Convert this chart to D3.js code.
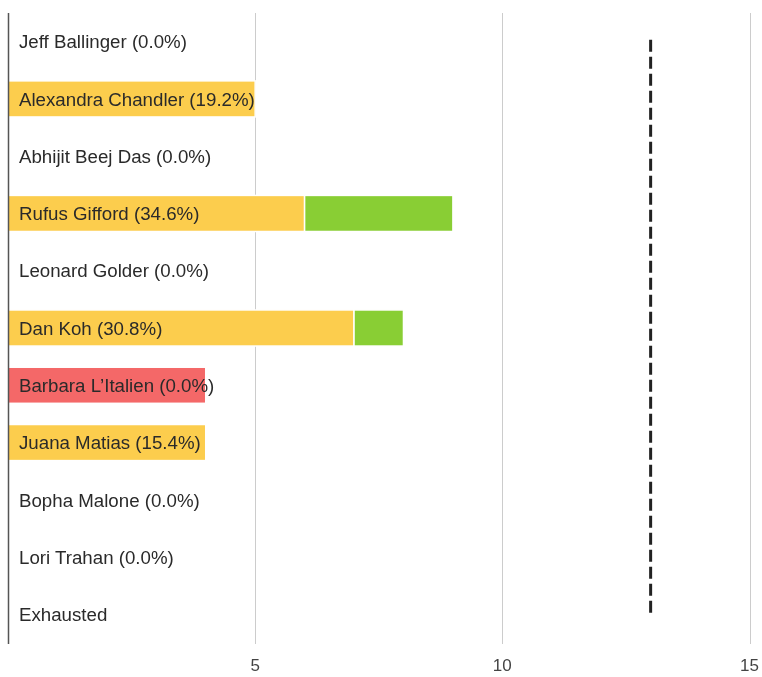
<!DOCTYPE html>
<head>
<meta charset="utf-8">
<title>round results</title>
<style>
html, body { margin:0; padding:0; overflow:hidden; background-color: #fff; }
svg { position:fixed; top:0; left:0; font-family: "Liberation Sans", Arial, sans-serif; }
</style>
</head>
<body>
<svg id="stage" width="762" height="677"></svg>
<script src="https://d3js.org/d3.v7.min.js"></script>
<script>

// candidates, top to bottom
let names = ["Jeff Ballinger", "Alexandra Chandler", "Abhijit Beej Das", "Rufus Gifford",
  "Leonard Golder", "Dan Koh", "Barbara L\u2019Italien", "Juana Matias",
  "Bopha Malone", "Lori Trahan", "Exhausted"];
let pctLabels = ["0.0%", "19.2%", "0.0%", "34.6%", "0.0%", "30.8%", "0.0%", "15.4%", "0.0%", "0.0%", null];
// votes kept from last round
let kept = [0, 5, 0, 6, 0, 7, 0, 4, 0, 0, 0];
// votes transferred this round
let gained = [0, 0, 0, 3, 0, 1, 0, 0, 0, 0, 0];
// votes of the eliminated candidate
let eliminated = [0, 0, 0, 0, 0, 0, 4, 0, 0, 0, 0];
let threshold = 13;
let xTicks = [5, 10, 15];

let colorArr = { kept: "#fccd4d", gained: "#89ce34", eliminated: "#f46868" };

var svg = d3.select("#stage");

var x = d3.scaleLinear().domain([0, 15]).range([8, 749.5]);
var y = d3.scaleBand().domain(names).range([13, 643]).paddingInner(0.37).paddingOuter(0.185);

// gridlines
svg.selectAll("line.grid")
  .data(xTicks)
  .enter().append("line")
    .attr("class", "grid")
    .attr("x1", d => Math.round(x(d)) + 0.5)
    .attr("x2", d => Math.round(x(d)) + 0.5)
    .attr("y1", 13)
    .attr("y2", 644)
    .attr("stroke", "#cccccc")
    .attr("stroke-width", 1);

svg.selectAll("text.tick")
  .data(xTicks)
  .enter().append("text")
    .attr("class", "tick")
    .attr("x", d => x(d))
    .attr("y", 671)
    .attr("text-anchor", "middle")
    .attr("font-size", "17px")
    .attr("fill", "#444")
    .text(d => d);

var segs = [];
names.forEach((n, i) => {
  if (eliminated[i] > 0) segs.push({ name: n, x0: 0, x1: eliminated[i], c: colorArr.eliminated });
  if (kept[i] > 0) segs.push({ name: n, x0: 0, x1: kept[i], c: colorArr.kept });
  if (gained[i] > 0) segs.push({ name: n, x0: kept[i], x1: kept[i] + gained[i], c: colorArr.gained });
});

svg.selectAll("rect.bar")
  .data(segs)
  .enter().append("rect")
    .attr("class", "bar")
    .attr("x", d => x(d.x0))
    .attr("y", d => y(d.name))
    .attr("width", d => x(d.x1) - x(d.x0))
    .attr("height", y.bandwidth())
    .attr("fill", d => d.c)
    .attr("stroke", "#fff")
    .attr("stroke-width", 1.5);

// threshold line
svg.append("line")
  .attr("x1", x(threshold))
  .attr("x2", x(threshold))
  .attr("y1", y(names[0]) + y.bandwidth() / 2 - 2)
  .attr("y2", y(names[names.length - 1]) + y.bandwidth() / 2)
  .attr("stroke", "#222")
  .attr("stroke-width", 3)
  .attr("stroke-dasharray", "12,5");

// left axis line
svg.append("line")
  .attr("x1", 8.5).attr("x2", 8.5)
  .attr("y1", 13).attr("y2", 644)
  .attr("stroke", "#555")
  .attr("stroke-width", 1.5);

svg.selectAll("text.label")
  .data(names)
  .enter().append("text")
    .attr("class", "label")
    .attr("x", 19)
    .attr("y", d => y(d) + y.bandwidth() / 2)
    .attr("dy", "0.36em")
    .attr("font-size", "18.7px")
    .attr("fill", "#2a2a2a")
    .text((d, i) => pctLabels[i] ? d + " (" + pctLabels[i] + ")" : d);

</script>
</body>
